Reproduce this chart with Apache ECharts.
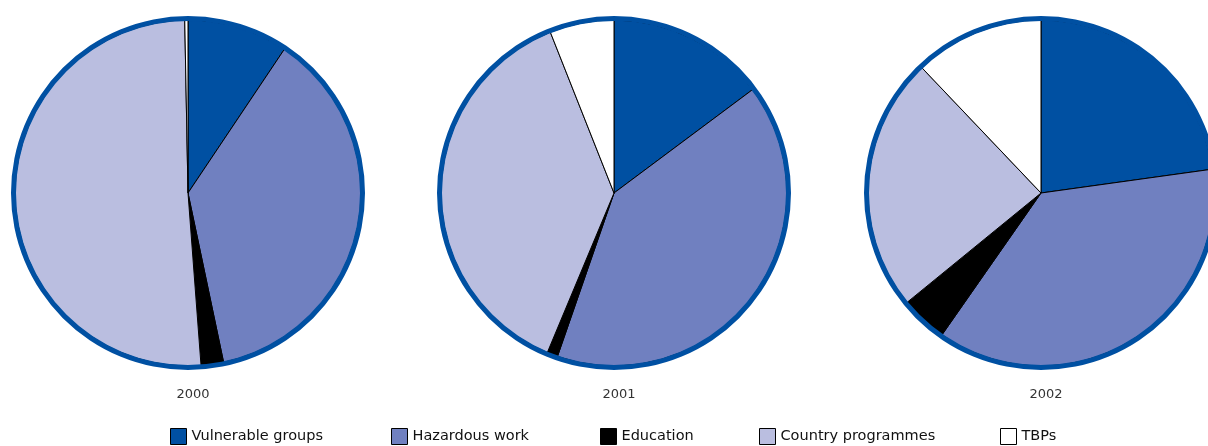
<!DOCTYPE html>
<html>
<head>
<meta charset="utf-8">
<script src="https://cdn.jsdelivr.net/npm/echarts@6/dist/echarts.min.js"></script>
<style>html,body{margin:0;padding:0;background:#fff}#c{width:1208px;height:446px}</style>
</head>
<body>
<div id="c"></div>
<script>
const categories = ['Vulnerable groups', 'Hazardous work', 'Education', 'Country programmes', 'TBPs'];
const years = ['2000', '2001', '2002'];
const values2000 = [9.4, 37.3, 2.1, 50.9, 0.3];
const values2001 = [14.8, 40.5, 1.0, 37.7, 6.0];
const values2002 = [22.8, 36.9, 4.4, 23.8, 12.1];
const colors = ['#0050A2', '#7080C0', '#000000', '#BABEE0', '#FFFFFF'];

const allValues = [values2000, values2001, values2002];
const centers = [[188, 193], [614, 193], [1041, 193]];
const legendLeft = [165, 386, 595, 754, 995];
const font = '"DejaVu Sans", sans-serif';

const series = [];
allValues.forEach((vals, i) => {
  series.push({
    type: 'pie',
    center: centers[i],
    radius: [0, 173],
    silent: true,
    label: { show: false },
    labelLine: { show: false },
    itemStyle: { borderColor: '#000', borderWidth: 1 },
    data: vals.map((v, k) => ({ name: categories[k], value: v, itemStyle: { color: colors[k] } }))
  });
  series.push({
    type: 'pie',
    center: centers[i],
    radius: [172, 177],
    silent: true,
    label: { show: false },
    labelLine: { show: false },
    legendHoverLink: false,
    data: [{ name: 'ring' + i, value: 1, itemStyle: { color: '#0050A2' } }]
  });
});

const chart = echarts.init(document.getElementById('c'), null, { renderer: 'canvas' });
chart.setOption({
  animation: false,
  color: colors,
  title: years.map((y, i) => ({
    text: y,
    left: centers[i][0],
    top: 383,
    textAlign: 'center',
    textStyle: { fontSize: 13, fontWeight: 'normal', color: '#333', fontFamily: font }
  })),
  legend: categories.map((c, k) => ({
    data: [c],
    left: legendLeft[k],
    top: 423,
    icon: 'rect',
    itemWidth: 16,
    itemHeight: 16,
    itemGap: 6,
    selectedMode: false,
    itemStyle: { borderColor: '#000', borderWidth: 1 },
    textStyle: { fontSize: 14.5, color: '#111', fontFamily: font }
  })),
  series: series
});
</script>
</body>
</html>
